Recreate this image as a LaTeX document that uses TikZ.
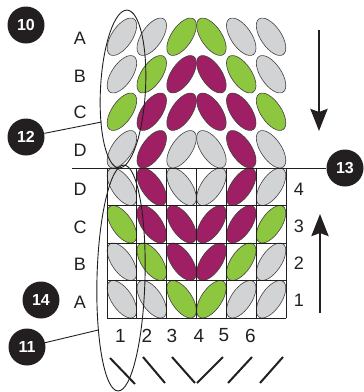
\documentclass[tikz,border=0pt]{standalone}
\usepackage{fontspec}
\setmainfont{Liberation Sans}
\usetikzlibrary{arrows.meta}
\definecolor{kgrey}{HTML}{D1D3D4}
\definecolor{kgreen}{HTML}{8DC63F}
\definecolor{kmag}{HTML}{9E1F63}
\definecolor{ink}{HTML}{231F20}
\begin{document}
\begin{tikzpicture}[x=1pt,y=-1pt,
  stitchline/.style={draw=ink!85, line width=0.6pt},
  gridline/.style={draw=ink, line width=0.8pt},
  outline/.style={draw=ink, line width=0.9pt},
  lbl/.style={font=\fontsize{18}{18}\selectfont, text=ink, inner sep=0pt},
  botnum/.style={font=\fontsize{19}{19}\selectfont, text=ink, inner sep=0pt},
  callout/.style={circle, fill=ink, text=white, minimum size=37pt, inner sep=0pt,
    font=\fontsize{16}{16}\selectfont\bfseries},
  bigarrow/.style={draw=ink, line width=2.7pt, -{Stealth[length=22pt,width=17pt,inset=3pt]}},
  slash/.style={draw=ink, line width=2pt},
  conn/.style={draw=ink, line width=0.9pt}]
\useasboundingbox (0,0) rectangle (364,392);

% stitches: lower (chart) and upper (mirrored fabric)
\foreach \yl/\yu/\cols in {
  186.75/149.25/{kgrey,kmag,kgrey,kgrey,kmag,kgrey},
  224.25/111.75/{kgreen,kmag,kmag,kmag,kmag,kgreen},
  261.75/74.25/{kgrey,kgreen,kmag,kmag,kgreen,kgrey},
  299.25/36.75/{kgrey,kgrey,kgreen,kgreen,kgrey,kgrey}}{
  \foreach \c [count=\i] in \cols {
    \pgfmathsetmacro\xx{107+29.83*(\i-0.5)}
    \pgfmathsetmacro\ang{(\i<4) ? -56 : 56}
    \path[stitchline, fill=\c, shift={(\xx,\yl)}, rotate=\ang] (0,0) ellipse [x radius=21.5, y radius=10.3];
    \path[stitchline, fill=\c, shift={(\xx,\yu)}, rotate=-\ang] (0,0) ellipse [x radius=21.5, y radius=10.3];
  }
}

% grid
\foreach \k in {0,...,6} {
  \pgfmathsetmacro\gx{107+29.83*\k}
  \draw[gridline] (\gx,168) -- (\gx,318);
}
\foreach \k in {1,...,4} {
  \pgfmathsetmacro\gy{168+37.5*\k}
  \draw[gridline] (107,\gy) -- (286,\gy);
}

% callouts
\node[callout] (c10) at (26,25) {10};
\node[callout] (c12) at (26,137) {12};
\node[callout] (c13) at (345,168) {13};
\node[callout] (c14) at (41,300) {14};
\node[callout] (c11) at (27,347) {11};

% dividing line
\coordinate (hl) at (72,168);
\draw[conn] (hl) -- (c13);

% row labels
\node[lbl] (ua) at (80,38.7) {A};
\node[lbl] (ub) at (80,76) {B};
\node[lbl] (uc) at (80,112.5) {C};
\node[lbl] (ud) at (80,150.5) {D};
\node[lbl] (ld) at (80,189.3) {D};
\node[lbl] (lc) at (80,227) {C};
\node[lbl] (lb) at (80,264) {B};
\node[lbl] (la) at (80,302) {A};
\node[lbl] (r4) at (299,189.5) {4};
\node[lbl] (r3) at (299,226.7) {3};
\node[lbl] (r2) at (299,263) {2};
\node[lbl] (r1) at (299,300) {1};
\node[botnum] (b1) at (120.5,335.5) {1};
\node[botnum] (b2) at (147,335.5) {2};
\node[botnum] (b3) at (172,335.5) {3};
\node[botnum] (b4) at (199,335.5) {4};
\node[botnum] (b5) at (224,335.5) {5};
\node[botnum] (b6) at (250.5,335.5) {6};

% arrows
\coordinate (d1) at (319,30);
\coordinate (d2) at (319,131);
\draw[bigarrow] (d1) -- (d2);
\coordinate (u1) at (320,313);
\coordinate (u2) at (320,214);
\draw[bigarrow] (u1) -- (u2);

% bottom slashes
\coordinate (s1a) at (110,358); \coordinate (s1b) at (135,384);
\coordinate (s2a) at (143,357); \coordinate (s2b) at (165,383);
\coordinate (s3a) at (172,357); \coordinate (s3b) at (195,383);
\coordinate (s4a) at (197,383); \coordinate (s4b) at (223,357);
\coordinate (s5a) at (228,383); \coordinate (s5b) at (252,357);
\coordinate (s6a) at (260,383); \coordinate (s6b) at (283,357);
\draw[slash] (s1a) -- (s1b);
\draw[slash] (s2a) -- (s2b);
\draw[slash] (s3a) -- (s3b);
\draw[slash] (s4a) -- (s4b);
\draw[slash] (s5a) -- (s5b);
\draw[slash] (s6a) -- (s6b);

% column outlines
\draw[outline, shift={(123,89)}, rotate=-3] (0,0) ellipse [x radius=22.5, y radius=79];
\draw[outline, shift={(121,278)}, rotate=-1.5] (0,0) ellipse [x radius=24, y radius=113];

% connectors
\coordinate (e12) at (101.5,122);
\coordinate (e11) at (98.3,330);
\draw[conn] (c12) -- (e12);
\draw[conn] (c11) -- (e11);
\end{tikzpicture}
\end{document}
